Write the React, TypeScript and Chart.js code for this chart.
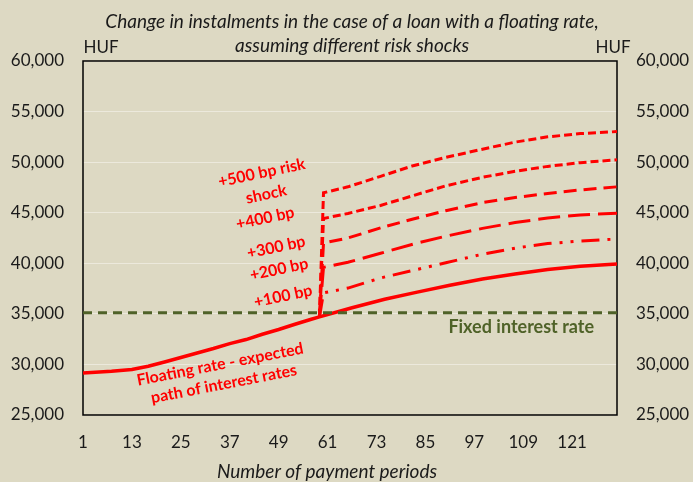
import React, { useEffect, useRef } from "react";
import { Chart, registerables } from "chart.js";

Chart.register(...registerables);

// ---------- data ----------
const TITLE_LINES = [
  "Change in instalments in the case of a loan with a floating rate,",
  "assuming different risk shocks",
];
const X_TITLE = "Number of payment periods";
const UNIT_LABEL = "HUF";

const X_TICKS = [1, 13, 25, 37, 49, 61, 73, 85, 97, 109, 121];
const X_MIN = 1;
const X_MAX = 132;
const Y_MIN = 25000;
const Y_MAX = 60000;
const Y_STEP = 5000;

const floatPeriods = [1, 8, 13, 17, 21, 25, 29, 33, 37, 41, 45, 49, 53, 57, 59, 67, 75, 83, 91, 99, 107, 115, 123, 132];
const floatValues = [29160, 29320, 29490, 29820, 30240, 30680, 31130, 31570, 32060, 32460, 32980, 33450, 33970, 34470, 34700, 35600, 36450, 37150, 37820, 38450, 38950, 39380, 39700, 39920];

const shockPeriods = [59, 60, 66, 74, 82, 90, 99, 107, 115, 123, 132];
const shock500 = [34700, 46970, 47560, 48600, 49650, 50470, 51280, 51980, 52500, 52820, 53020];
const shock400 = [34700, 44430, 44930, 45720, 46690, 47660, 48500, 49100, 49580, 49950, 50230];
const shock300 = [34700, 42000, 42500, 43500, 44380, 45200, 46000, 46500, 46900, 47250, 47560];
const shock200 = [34700, 39600, 40100, 40990, 41900, 42680, 43450, 44030, 44480, 44780, 44950];
const shock100 = [34700, 37070, 37550, 38550, 39300, 40050, 40900, 41500, 41950, 42200, 42400];

const fixedPeriods = [1, 132];
const fixedValues = [35100, 35100];

const annoLabels = [
  "+500 bp risk\nshock",
  "+400 bp",
  "+300 bp",
  "+200 bp",
  "+100 bp",
  "Floating rate - expected\npath of interest rates",
  "Fixed interest rate",
];
const annoPeriods = [45.4, 45.7, 48.4, 49.1, 50.1, 35.1, 108.5];
const annoValues = [47880, 44450, 41580, 39400, 36740, 29030, 33680];

// ---------- styling ----------
const BG = "#DDD9C3";
const RED = "#FF0000";
const GREEN = "#4F6228";
const TEXT = "#1a1a1a";
const FONT = "Lato, 'Open Sans', sans-serif";
const LEFT_W = 83;
const RIGHT_W = 76;
const TOP_PAD = 61;
const X_H = 67;

const annoAngles = [-12, -12, -12, -12, -12, -11, 0];
const annoColors = [RED, RED, RED, RED, RED, RED, GREEN];
const annoSizes = [16, 16, 16, 16, 16, 16, 18];

const toXY = (xs: number[], ys: number[]) => xs.map((x, i) => ({ x, y: ys[i] }));

function drawLines(
  ctx: CanvasRenderingContext2D,
  lines: string[],
  x: number,
  y: number,
  angleDeg: number,
  lineH: number
) {
  ctx.save();
  ctx.translate(x, y);
  ctx.rotate((angleDeg * Math.PI) / 180);
  ctx.textAlign = "center";
  ctx.textBaseline = "middle";
  const n = lines.length;
  lines.forEach((l, i) => ctx.fillText(l, 0, (i - (n - 1) / 2) * lineH));
  ctx.restore();
}

const textPlugin = {
  id: "texts",
  beforeDatasetsDraw(chart: any) {
    const { ctx, chartArea: a } = chart;
    ctx.save();
    ctx.strokeStyle = "#000";
    ctx.lineWidth = 1.5;
    ctx.strokeRect(a.left, a.top, a.right - a.left, a.bottom - a.top);
    ctx.restore();
  },
  afterDraw(chart: any) {
    const { ctx, chartArea: a, scales } = chart;
    const cx = (a.left + a.right) / 2;
    ctx.save();
    ctx.fillStyle = TEXT;
    ctx.font = `italic 19px ${FONT}`;
    drawLines(ctx, TITLE_LINES, cx + 2, a.top - 27, 0, 24);
    ctx.font = `17px ${FONT}`;
    drawLines(ctx, [UNIT_LABEL], a.left + 18, a.top - 13, 0, 20);
    drawLines(ctx, [UNIT_LABEL], a.right - 4, a.top - 13, 0, 20);
    ctx.font = `italic 19px ${FONT}`;
    drawLines(ctx, [X_TITLE], cx - 23, a.bottom + 57, 0, 20);
    annoLabels.forEach((lab, i) => {
      const px = scales.x.getPixelForValue(annoPeriods[i]);
      const py = scales.y.getPixelForValue(annoValues[i]);
      ctx.fillStyle = annoColors[i];
      ctx.font = `bold ${annoSizes[i]}px ${FONT}`;
      drawLines(ctx, lab.split("\n"), px, py, annoAngles[i], i === 5 ? 20 : 22);
    });
    ctx.restore();
  },
};

export default function App() {
  const ref = useRef<HTMLCanvasElement>(null);

  useEffect(() => {
    document.body.style.margin = "0";
    const tickFont = { family: FONT, size: 17 };
    const fmt = (v: any) => Number(v).toLocaleString("en-US");
    const common = { pointRadius: 0, pointHoverRadius: 0, fill: false, tension: 0 };
    const chart = new Chart(ref.current!, {
      type: "line",
      data: {
        datasets: [
          { ...common, label: "Fixed interest rate", data: toXY(fixedPeriods, fixedValues), borderColor: GREEN, borderWidth: 3, borderDash: [9, 6] },
          { ...common, label: "+500 bp", data: toXY(shockPeriods, shock500), borderColor: RED, borderWidth: 3, borderDash: [8, 4] },
          { ...common, label: "+400 bp", data: toXY(shockPeriods, shock400), borderColor: RED, borderWidth: 3, borderDash: [8, 4] },
          { ...common, label: "+300 bp", data: toXY(shockPeriods, shock300), borderColor: RED, borderWidth: 3, borderDash: [13, 7] },
          { ...common, label: "+200 bp", data: toXY(shockPeriods, shock200), borderColor: RED, borderWidth: 3, borderDash: [22, 8] },
          { ...common, label: "+100 bp", data: toXY(shockPeriods, shock100), borderColor: RED, borderWidth: 3, borderDash: [18, 8, 3, 8, 3, 8] },
          { ...common, label: "Floating rate", data: toXY(floatPeriods, floatValues), borderColor: RED, borderWidth: 3.5 },
        ],
      },
      options: {
        animation: false,
        responsive: false,
        events: [],
        layout: { padding: { top: TOP_PAD, left: 0, right: 0, bottom: 0 } },
        plugins: { legend: { display: false }, tooltip: { enabled: false }, title: { display: false } },
        scales: {
          x: {
            type: "linear",
            min: X_MIN,
            max: X_MAX,
            afterBuildTicks: (s: any) => {
              s.ticks = X_TICKS.map((v) => ({ value: v }));
            },
            afterFit: (s: any) => {
              s.height = X_H;
            },
            ticks: { autoSkip: false, maxRotation: 0, padding: 17, color: TEXT, font: tickFont, callback: (v: any) => String(v) },
            grid: { display: false, drawTicks: false },
            border: { display: false },
          },
          y: {
            type: "linear",
            position: "left",
            min: Y_MIN,
            max: Y_MAX,
            afterFit: (s: any) => {
              s.width = LEFT_W;
            },
            ticks: { stepSize: Y_STEP, padding: 19, color: TEXT, font: tickFont, callback: fmt },
            grid: { color: "rgba(240,238,228,0.75)", lineWidth: 1, drawTicks: false },
            border: { display: false },
          },
          y2: {
            type: "linear",
            position: "right",
            min: Y_MIN,
            max: Y_MAX,
            afterFit: (s: any) => {
              s.width = RIGHT_W;
            },
            ticks: { stepSize: Y_STEP, padding: 19, color: TEXT, font: tickFont, callback: fmt },
            grid: { display: false, drawTicks: false },
            border: { display: false },
          },
        },
      },
      plugins: [textPlugin],
    } as any);
    return () => chart.destroy();
  }, []);

  return (
    <div style={{ width: 693, height: 482, background: BG, overflow: "hidden" }}>
      <canvas ref={ref} width={693} height={482} style={{ display: "block" }} />
    </div>
  );
}
